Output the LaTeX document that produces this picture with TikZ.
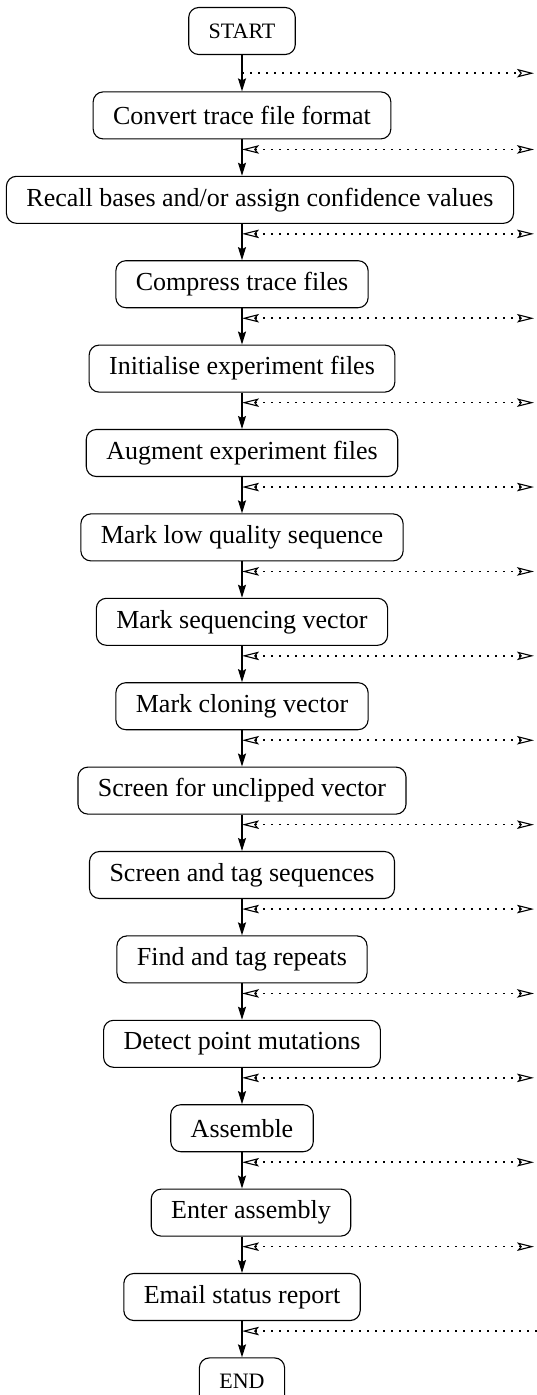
\documentclass[tikz,border=0pt]{standalone}
\usepackage{fontspec}
\setmainfont{Liberation Serif}
\usetikzlibrary{arrows.meta, positioning, calc}
\tikzset{
  % Open arrow tip of the side lines
  opentip/.tip={Stealth[open, length=17pt, width=8.5pt, inset=3.5pt, line width=1.1pt]},
  % START / END node
  termnode/.style={
    rectangle, rounded corners=10pt,
    fill=white, draw=black, line width=1.1pt,
    font=\fontsize{22}{26}\selectfont,
    inner xsep=20pt, minimum height=47pt,
    align=center
  },
  % Processing step node
  procnode/.style={
    rectangle, rounded corners=10pt,
    fill=white, draw=black, line width=1.1pt,
    font=\fontsize{26}{31}\selectfont,
    inner xsep=20pt, minimum height=47pt,
    align=center
  },
  % Arrow between steps
  flowarrow/.style={
    -{Stealth[length=13pt, width=8pt, inset=2pt]}, line width=1.2pt
  },
  % Dotted side line
  tapline/.style={
    opentip-opentip, line width=1.6pt, dash pattern=on 1.6pt off 6.4pt
  },
  tapout/.style={tapline, -opentip},
  tapin/.style={tapline, opentip-}
}

\begin{document}
\begin{tikzpicture}

  \useasboundingbox (0,0) rectangle (537pt,-1395pt);

  % ── Step nodes (top → bottom) ─────────────────────────────────────────────
  \node[termnode] (start) at (242pt,-31pt) {START};
  \node[procnode, below=36.3pt of start] (convert) {Convert trace file format};
  \node[procnode, below=36.3pt of convert, xshift=18pt] (recall)
        {Recall bases and/or assign confidence values};
  \node[procnode, below=36.3pt of recall, xshift=-18pt] (compress) {Compress trace files};
  \node[procnode, below=36.3pt of compress] (init) {Initialise experiment files};
  \node[procnode, below=36.3pt of init] (augment) {Augment experiment files};
  \node[procnode, below=36.3pt of augment] (lowqual) {Mark low quality sequence};
  \node[procnode, below=36.3pt of lowqual] (seqvec) {Mark sequencing vector};
  \node[procnode, below=36.3pt of seqvec] (clonevec) {Mark cloning vector};
  \node[procnode, below=36.3pt of clonevec] (unclip) {Screen for unclipped vector};
  \node[procnode, below=36.3pt of unclip] (tagseq) {Screen and tag sequences};
  \node[procnode, below=36.3pt of tagseq] (repeats) {Find and tag repeats};
  \node[procnode, below=36.3pt of repeats] (mutate) {Detect point mutations};
  \node[procnode, below=36.3pt of mutate] (assemble) {Assemble};
  \node[procnode, below=36.3pt of assemble, xshift=9pt] (enter) {Enter assembly};
  \node[procnode, below=36.3pt of enter, xshift=-9pt] (email) {Email status report};
  \node[termnode, below=36.3pt of email] (stop) {END};

  % ── Arrows between steps ─────────────────────────────────────────────────
  \draw[flowarrow] (start.south)    -- (convert.north);
  \draw[flowarrow] (convert.south)  -- (convert.south |- recall.north);
  \draw[flowarrow] (start |- recall.south) -- (compress.north);
  \draw[flowarrow] (compress.south) -- (init.north);
  \draw[flowarrow] (init.south)     -- (augment.north);
  \draw[flowarrow] (augment.south)  -- (lowqual.north);
  \draw[flowarrow] (lowqual.south)  -- (seqvec.north);
  \draw[flowarrow] (seqvec.south)   -- (clonevec.north);
  \draw[flowarrow] (clonevec.south) -- (unclip.north);
  \draw[flowarrow] (unclip.south)   -- (tagseq.north);
  \draw[flowarrow] (tagseq.south)   -- (repeats.north);
  \draw[flowarrow] (repeats.south)  -- (mutate.north);
  \draw[flowarrow] (mutate.south)   -- (assemble.north);
  \draw[flowarrow] (assemble.south) -- (assemble.south |- enter.north);
  \draw[flowarrow] (start |- enter.south) -- (email.north);
  \draw[flowarrow] (email.south)    -- (stop.north);

  % ── Side lines (taps on the main line) ───────────────────────────────────
  \coordinate (rim)  at (534pt,0);
  \coordinate (edge) at (537pt,0);
  \coordinate (tap1)  at ($(start.south)!0.5!(convert.north)$);
  \coordinate (tap2)  at ($(start |- convert.south)+(0,-10pt)$);
  \coordinate (tap3)  at ($(start |- recall.south)+(0,-10pt)$);
  \coordinate (tap4)  at ($(start |- compress.south)+(0,-10pt)$);
  \coordinate (tap5)  at ($(start |- init.south)+(0,-10pt)$);
  \coordinate (tap6)  at ($(start |- augment.south)+(0,-10pt)$);
  \coordinate (tap7)  at ($(start |- lowqual.south)+(0,-10pt)$);
  \coordinate (tap8)  at ($(start |- seqvec.south)+(0,-10pt)$);
  \coordinate (tap9)  at ($(start |- clonevec.south)+(0,-10pt)$);
  \coordinate (tap10) at ($(start |- unclip.south)+(0,-10pt)$);
  \coordinate (tap11) at ($(start |- tagseq.south)+(0,-10pt)$);
  \coordinate (tap12) at ($(start |- repeats.south)+(0,-10pt)$);
  \coordinate (tap13) at ($(start |- mutate.south)+(0,-10pt)$);
  \coordinate (tap14) at ($(start |- assemble.south)+(0,-10pt)$);
  \coordinate (tap15) at ($(start |- enter.south)+(0,-10pt)$);
  \coordinate (tap16) at ($(start |- email.south)+(0,-10pt)$);

  \draw[tapout]  (tap1)  -- (rim |- tap1);
  \draw[tapline] (tap2)  -- (rim |- tap2);
  \draw[tapline] (tap3)  -- (rim |- tap3);
  \draw[tapline] (tap4)  -- (rim |- tap4);
  \draw[tapline] (tap5)  -- (rim |- tap5);
  \draw[tapline] (tap6)  -- (rim |- tap6);
  \draw[tapline] (tap7)  -- (rim |- tap7);
  \draw[tapline] (tap8)  -- (rim |- tap8);
  \draw[tapline] (tap9)  -- (rim |- tap9);
  \draw[tapline] (tap10) -- (rim |- tap10);
  \draw[tapline] (tap11) -- (rim |- tap11);
  \draw[tapline] (tap12) -- (rim |- tap12);
  \draw[tapline] (tap13) -- (rim |- tap13);
  \draw[tapline] (tap14) -- (rim |- tap14);
  \draw[tapline] (tap15) -- (rim |- tap15);
  \draw[tapin]   (tap16) -- (edge |- tap16);

\end{tikzpicture}
\end{document}
